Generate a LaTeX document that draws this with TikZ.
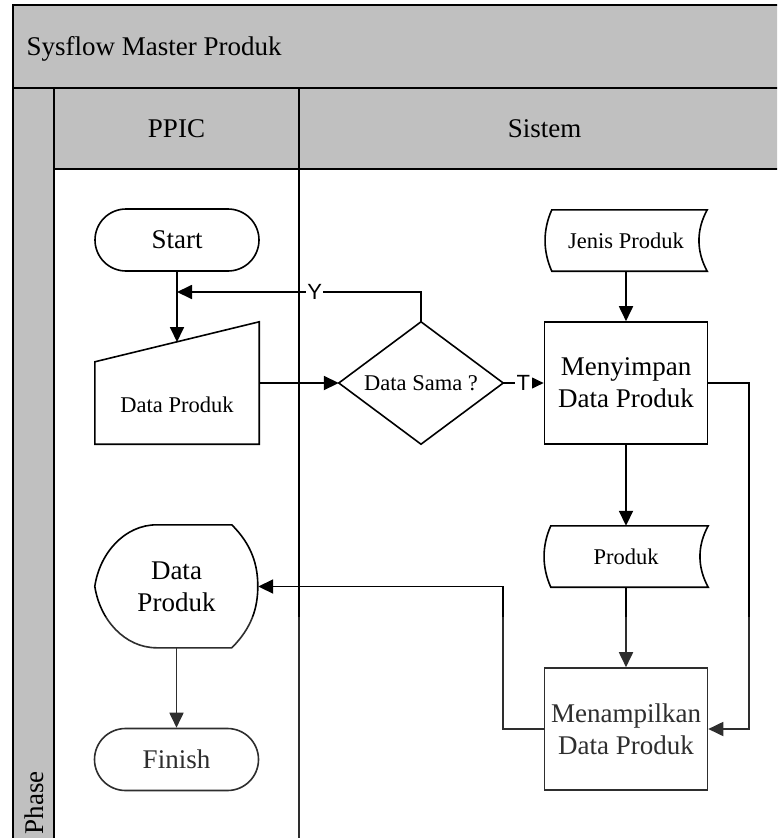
\documentclass[tikz,border=0pt]{standalone}
\usepackage{fontspec}
\setmainfont{Liberation Serif}
\newfontfamily\lblfont{Liberation Sans}
\usetikzlibrary{arrows.meta,shapes.misc,calc}

\definecolor{hdrgray}{RGB}{192,192,192}

% outline of a "stored data" symbol around a named node
\newcommand\storeshape[1]{%
  \draw[shpline] ([xshift=7pt]#1.north west) -- (#1.north east)
    .. controls ([xshift=-11pt,yshift=-20pt]#1.north east) and ([xshift=-11pt,yshift=20pt]#1.south east) .. (#1.south east)
    -- ([xshift=7pt]#1.south west)
    .. controls ([xshift=-2pt,yshift=20pt]#1.south west) and ([xshift=-2pt,yshift=-20pt]#1.north west) .. ([xshift=7pt]#1.north west)
    -- cycle;}

\begin{document}
\begin{tikzpicture}[x=1pt,y=-1pt,
  laneline/.style={line width=1.8pt},
  shpline/.style={line width=1.6pt, line join=miter},
  bigtext/.style={font=\fontsize{27}{32}\selectfont},
  smalltext/.style={font=\fontsize{22.5}{27}\selectfont},
  bbox/.style 2 args={rectangle, minimum width=#1, minimum height=#2, inner sep=0pt, align=center},
  term/.style={draw, shpline, rounded rectangle, minimum width=164pt, minimum height=62pt, inner sep=0pt, bigtext},
  procbox/.style={draw, shpline, rectangle, minimum width=163pt, minimum height=122pt, inner sep=0pt, align=center, bigtext},
  flow/.style={line width=1.8pt, -{Triangle[length=15pt,width=14pt]}},
  flowsmall/.style={line width=1.8pt, -{Triangle[length=12pt,width=11pt]}},
  lbl/.style={font=\lblfont\fontsize{22}{26}\selectfont, fill=white, inner sep=1.5pt},
]
\useasboundingbox (0,0) rectangle (777,838);
\clip (0,0) rectangle (777,838);
\fill[white] (0,0) rectangle (777,838);

% pool: title band, lane headers, phase column
\fill[hdrgray] (13,5) rectangle (795,169);
\fill[hdrgray] (13,169) rectangle (54,845);
\draw[laneline] (13,845) -- (13,5) -- (795,5);
\draw[laneline] (13,88) -- (795,88);
\draw[laneline] (54,169) -- (795,169);
\draw[laneline] (54,88) -- (54,845);
\draw[laneline] (299,88) -- (299,845);

\node[bigtext, anchor=base west] (title) at (23,55) {Sysflow Master Produk};
\node[bigtext, anchor=base] (hppic) at (176.5,137) {PPIC};
\node[bigtext, anchor=base] (hsis) at (544.5,137) {Sistem};
\node[bigtext, rotate=90, anchor=base east, inner sep=0pt] (phase) at (43,771) {Phase};

% PPIC lane
\node[term] (start) at (177,240) {Start};
\node[bbox={164pt}{122pt}] (dp) at (177,383) {};
\draw[shpline] (dp.south west) -- ([yshift=-40pt]dp.north west) -- (dp.north east) -- (dp.south east) -- cycle;
\node[smalltext, anchor=base] (dptext) at (177,412) {Data Produk};
\coordinate (dpin) at (177,342);
\coordinate (ymerge) at (177,292);

\node[bbox={163pt}{123pt}, bigtext] (disp) at (176.5,586.5) {Data\\Produk};
\draw[shpline, shift={(disp.north west)}] (62,0) -- (137,0)
  .. controls (157,20) and (163,40) .. (163,61.5)
  .. controls (163,83) and (157,103) .. (137,123)
  -- (62,123)
  .. controls (30,123) and (5,95) .. (0,61.5)
  .. controls (5,28) and (30,0) .. (62,0) -- cycle;
\node[term] (fin) at (176.5,759.5) {Finish};

% Sistem lane
\node[bbox={164pt}{122pt}, smalltext] (dia) at (421,383) {Data Sama ?};
\draw[shpline] (dia.north) -- (dia.east) -- (dia.south) -- (dia.west) -- cycle;

\node[bbox={162pt}{61pt}, smalltext] (jenis) at (626,240.5) {Jenis Produk};
\storeshape{jenis}
\node[procbox] (save) at (626,383) {Menyimpan\\Data Produk};
\node[bbox={164pt}{61pt}, smalltext] (prod) at (626,556.5) {Produk};
\storeshape{prod}
\node[procbox] (show) at (626,729) {Menampilkan\\Data Produk};

% connectors
\draw[flow] (start) -- (dpin);
\draw[flow] (dia.north) |- node[lbl, pos=0.718] (ylbl) {Y} (ymerge);
\draw[flow] (dp.east) -- (dia.west);
\draw[flowsmall] (dia.east) -- node[lbl] (tlbl) {T} (save.west);
\draw[flow] (jenis) -- (save);
\draw[flow] (save) -- (prod);
\draw[flow] (prod) -- (show);
\draw[flow] (save.east) -- ++(41,0) |- (show.east);
\draw[flow] (show.west) -- ++(-41,0) |- (disp.east);
\draw[flow] (disp) -- (fin);

% faded lower part of the sheet
\fill[white, opacity=0.18] (56,617) rectangle (777,838);
\end{tikzpicture}
\end{document}
